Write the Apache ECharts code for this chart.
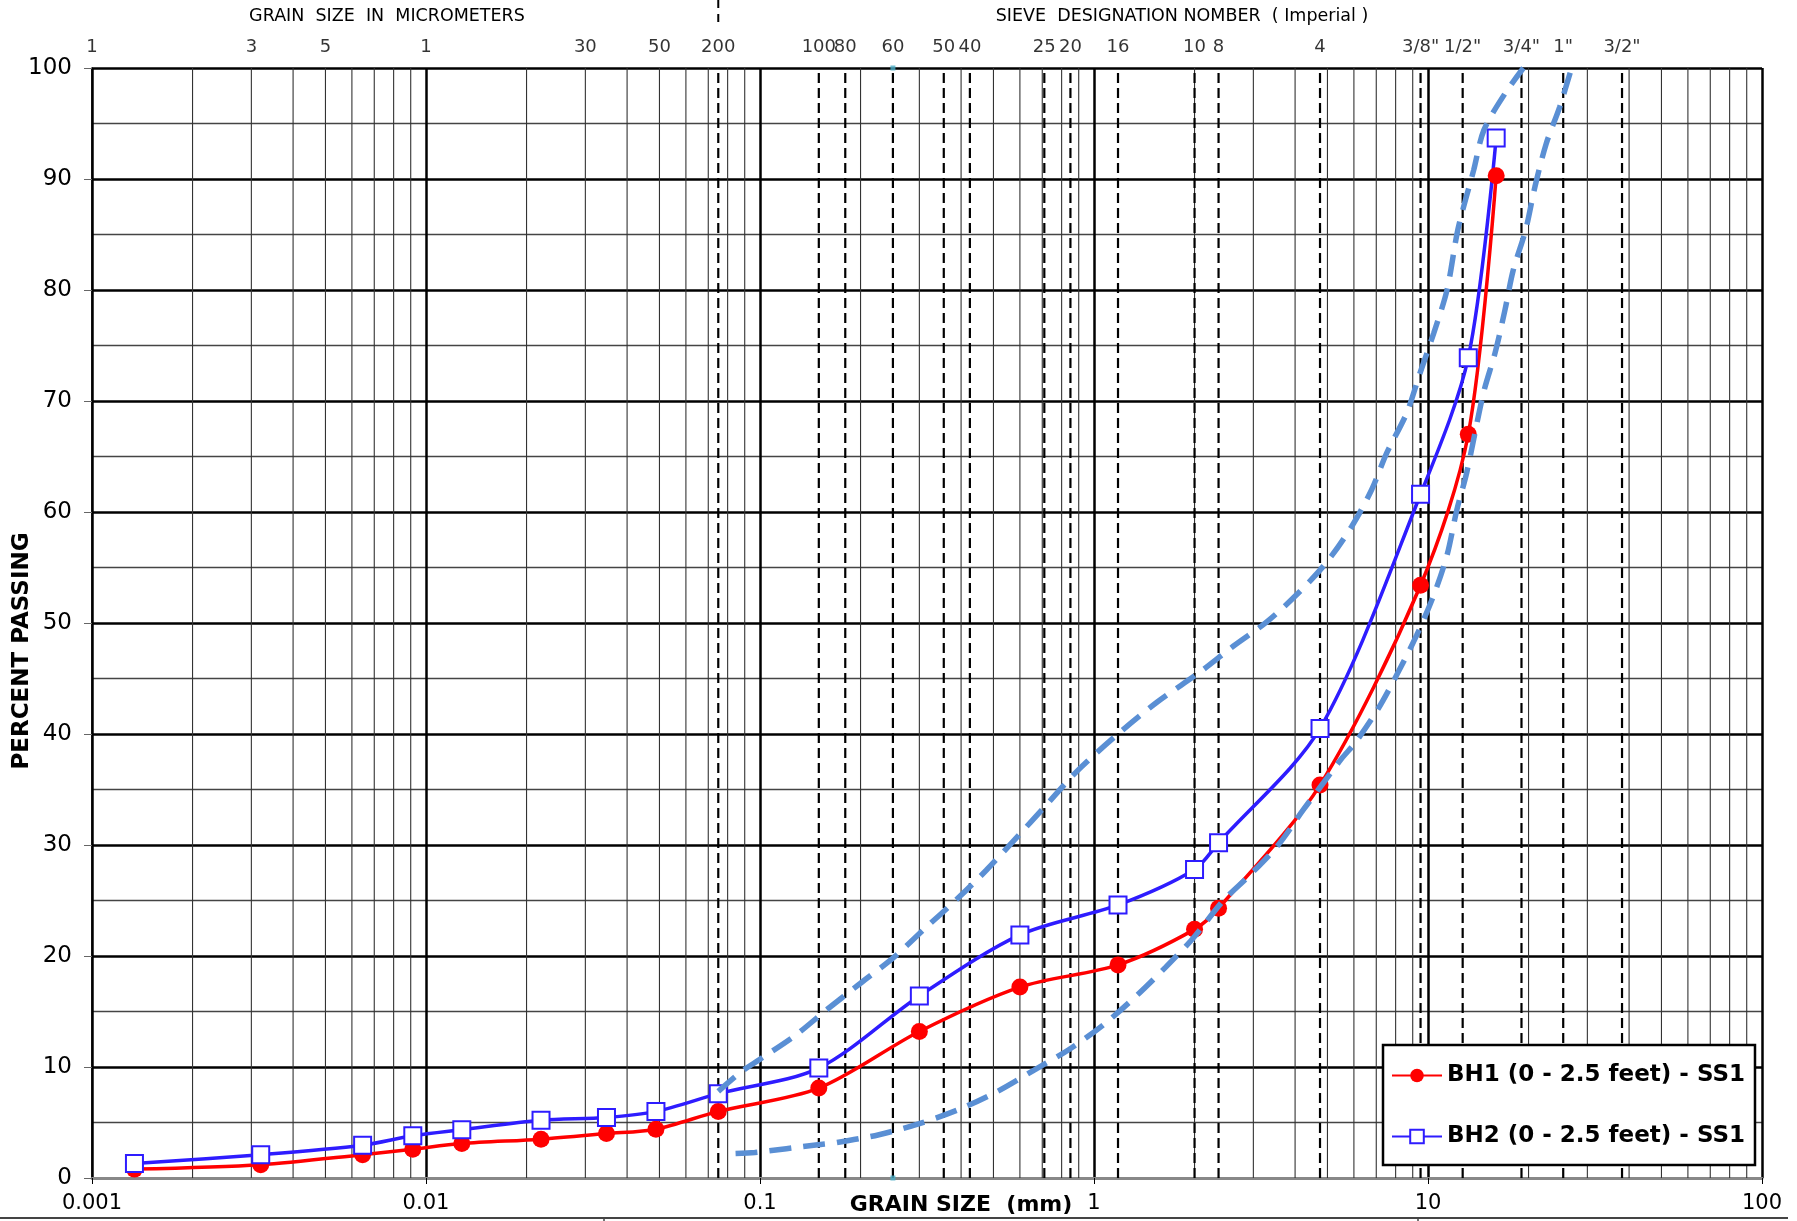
<!DOCTYPE html>
<html><head><meta charset="utf-8">
<script src="https://cdn.jsdelivr.net/npm/echarts@6/dist/echarts.min.js"></script>
<style>html,body{margin:0;padding:0;background:#fff}#c{width:1797px;height:1221px}</style>
</head><body><div id="c"></div>
<script>
// ---------------- DATA ----------------
const grainSizes = [0.00134, 0.0032, 0.00646, 0.00913, 0.0128, 0.0221, 0.0347, 0.0488, 0.075, 0.15, 0.3, 0.6, 1.18, 2.0, 2.36, 4.75, 9.5, 13.2, 16];
const bh1Passing = [0.8, 1.2, 2.1, 2.6, 3.1, 3.5, 4.0, 4.4, 6.0, 8.1, 13.2, 17.2, 19.2, 22.4, 24.3, 35.4, 53.4, 67.0, 90.3];
const bh2Passing = [1.3, 2.1, 2.95, 3.8, 4.35, 5.2, 5.45, 6.0, 7.6, 9.9, 16.4, 21.9, 24.6, 27.8, 30.2, 40.5, 61.6, 73.9, 93.7];

const upperEnvSize = [0.075, 0.0877, 0.1, 0.127, 0.159, 0.199, 0.252, 0.312, 0.385, 0.475, 0.6, 0.705, 0.893, 1.18, 1.55, 2.08, 2.61, 3.29, 4.09, 4.98, 5.91, 6.78, 7.52, 8.63, 9.46, 10.4, 11.4, 12.3, 13.7, 14.7, 17.0, 19.3];
const upperEnvPct  = [7.8, 9.55, 10.7, 12.8, 15.2, 17.5, 19.9, 22.5, 25.0, 27.7, 31.0, 33.3, 36.7, 40.0, 42.9, 45.6, 47.9, 50.1, 52.7, 55.5, 58.7, 62.0, 65.3, 68.9, 72.5, 76.1, 80.0, 85.5, 90.8, 94.4, 97.7, 100];

const lowerEnvSize = [0.0845, 0.0965, 0.149, 0.17, 0.227, 0.3, 0.396, 0.514, 0.66, 0.849, 1.077, 1.349, 1.64, 1.98, 2.44, 2.93, 3.56, 4.24, 4.70, 5.52, 6.05, 7.10, 8.15, 9.25, 10.4, 11.4, 12.2, 13.05, 14.65, 15.9, 17.0, 18.0, 19.6, 20.9, 22.6, 24.8, 26.9];
const lowerEnvPct  = [2.2, 2.3, 3.0, 3.2, 3.9, 4.9, 6.2, 7.8, 9.7, 11.65, 13.9, 16.5, 19.0, 21.6, 25.0, 27.3, 30.0, 33.2, 35.0, 37.8, 39.2, 42.3, 45.6, 48.9, 52.5, 56.1, 60.2, 63.5, 70.7, 74.4, 78.2, 81.8, 85.4, 89.3, 93.2, 96.5, 100];

const sieveSizes  = [0.075, 0.15, 0.18, 0.25, 0.355, 0.425, 0.71, 0.85, 1.18, 2.0, 2.36, 4.75, 9.5, 12.7, 19.05, 25.4, 38.1];
const sieveLabels = ['200', '100', '80', '60', '50', '40', '25', '20', '16', '10', '8', '4', '3/8"', '1/2"', '3/4"', '1"', '3/2"'];
const micronSizes  = [0.001, 0.003, 0.005, 0.01, 0.03, 0.05];
const micronLabels = ['1', '3', '5', '1', '30', '50'];
const markerPoints = [[0.25, 0], [0.25, 100]];
const decades = [0.001, 0.01, 0.1, 1, 10];
const minorMultipliers = [2, 3, 4, 5, 6, 7, 8, 9];

// --------------- BUILD ----------------
const FONT = "'DejaVu Sans', 'Liberation Sans', Arial, sans-serif";
const pair = (xs, ys) => xs.map((x, i) => [x, ys[i]]);
const minorGrid = [];
decades.forEach(d => minorMultipliers.forEach(m => minorGrid.push([+(d * m).toPrecision(3), 50])));

function vline(style) {
  return function (params, api) {
    const x = api.value(0);
    const a = api.coord([x, 0]);
    const b = api.coord([x, 100]);
    return { type: 'line', shape: { x1: a[0], y1: a[1], x2: b[0], y2: b[1] }, style: style };
  };
}

const BLUE = '#2E1CFF', RED = '#FF0000', ENV = '#5A8FD4';

const chart = echarts.init(document.getElementById('c'), null, { renderer: 'canvas' });
chart.setOption({
  animation: false,
  backgroundColor: '#fff',
  textStyle: { fontFamily: FONT },
  grid: { left: 92, top: 68, right: 35, bottom: 43, containLabel: false, outerBoundsMode: 'none' },
  xAxis: {
    type: 'log', logBase: 10, min: 0.001, max: 100,
    axisLine: { show: true, onZero: false, lineStyle: { color: '#888', width: 3 } },
    axisTick: { show: true, length: 6, lineStyle: { color: '#000', width: 1 } },
    axisLabel: { fontSize: 21, color: '#000', margin: 15, fontFamily: FONT,
      formatter: v => String(Number(v.toPrecision(1))) },
    splitLine: { show: true, lineStyle: { color: '#000', width: 2.5 } },
    minorTick: { show: false }, minorSplitLine: { show: false }
  },
  yAxis: {
    type: 'value', min: 0, max: 100, interval: 10,
    axisLine: { show: true, lineStyle: { color: '#000', width: 1.5 } },
    axisTick: { show: true, length: 8, lineStyle: { color: '#666', width: 1 } },
    axisLabel: { fontSize: 23, color: '#000', margin: 20, fontFamily: FONT },
    splitLine: { show: true, lineStyle: { color: '#000', width: 2.5 } },
    minorTick: { show: false, splitNumber: 2 },
    minorSplitLine: { show: true, lineStyle: { color: '#444', width: 1.3 } }
  },
  legend: {
    orient: 'vertical', left: 1383, top: 1045,
    data: ['BH1 (0 - 2.5 feet) - SS1', 'BH2 (0 - 2.5 feet) - SS1'],
    itemWidth: 50, itemHeight: 17, itemGap: 38,
    padding: [19, 10, 17, 8],
    backgroundColor: '#fff', borderColor: '#000', borderWidth: 2.5,
    textStyle: { fontSize: 23, fontWeight: 'bold', color: '#000', fontFamily: FONT },
    selectedMode: false
  },
  series: [
    { type: 'custom', name: 'minor', silent: true, z: 1, renderItem: vline({ stroke: '#333', lineWidth: 1.1 }),
      data: minorGrid, encode: { x: 0, y: 1 } },
    { type: 'custom', name: 'sieves', silent: true, z: 1,
      renderItem: vline({ stroke: '#000', lineWidth: 2.2, lineDash: [10, 5] }),
      data: sieveSizes.map(s => [s, 50]), encode: { x: 0, y: 1 } },
    { type: 'scatter', name: 'topSieve', silent: true, z: 6, symbolSize: 0,
      data: sieveSizes.map((s, i) => [s, 100, sieveLabels[i]]),
      label: { show: true, position: 'top', distance: 12, formatter: p => p.data[2], fontSize: 18, color: '#000', fontFamily: FONT } },
    { type: 'scatter', name: 'topMicron', silent: true, z: 6, symbolSize: 0,
      data: micronSizes.map((s, i) => [s, 100, micronLabels[i]]),
      label: { show: true, position: 'top', distance: 12, formatter: p => p.data[2], fontSize: 18, color: '#000', fontFamily: FONT } },
    { type: 'line', name: 'BH1 (0 - 2.5 feet) - SS1', z: 3, data: pair(grainSizes, bh1Passing),
      smooth: 0.3, symbol: 'circle', symbolSize: 17, showSymbol: true,
      lineStyle: { color: RED, width: 3.5 }, itemStyle: { color: RED } },
    { type: 'line', name: 'BH2 (0 - 2.5 feet) - SS1', z: 3, data: pair(grainSizes, bh2Passing),
      smooth: 0.3, symbol: 'rect', symbolSize: 17, showSymbol: true,
      lineStyle: { color: BLUE, width: 3.5 }, itemStyle: { color: '#fff', borderColor: BLUE, borderWidth: 2 } },
    { type: 'line', name: 'upperEnv', z: 4, data: pair(upperEnvSize, upperEnvPct), smooth: 0.3,
      symbol: 'none', silent: true, lineStyle: { color: ENV, width: 5.5, type: [22, 12] } },
    { type: 'line', name: 'lowerEnv', z: 4, data: pair(lowerEnvSize, lowerEnvPct), smooth: 0.3,
      symbol: 'none', silent: true, lineStyle: { color: ENV, width: 5.5, type: [22, 12] } },
    { type: 'scatter', name: 'marks', z: 4, silent: true, symbol: 'rect', symbolSize: 5,
      data: markerPoints, itemStyle: { color: '#4BACC6' } }
  ]
});

const px200 = chart.convertToPixel({ xAxisIndex: 0 }, sieveSizes[0]);
chart.setOption({
  graphic: [
    { type: 'text', x: 387, y: 16, style: { text: 'GRAIN  SIZE  IN  MICROMETERS', font: '17.5px ' + FONT, fill: '#000', align: 'center', verticalAlign: 'middle' } },
    { type: 'text', x: 1182, y: 16, style: { text: 'SIEVE  DESIGNATION NOMBER  ( Imperial )', font: '17.5px ' + FONT, fill: '#000', align: 'center', verticalAlign: 'middle' } },
    { type: 'text', x: 961, y: 1205, style: { text: 'GRAIN SIZE  (mm)', font: 'bold 22px ' + FONT, fill: '#000', align: 'center', verticalAlign: 'middle' } },
    { type: 'text', x: 22, y: 651, rotation: Math.PI / 2, style: { text: 'PERCENT PASSING', font: 'bold 23px ' + FONT, fill: '#000', align: 'center', verticalAlign: 'middle' } },
    { type: 'line', shape: { x1: px200, y1: 0, x2: px200, y2: 22 }, style: { stroke: '#000', lineWidth: 2, lineDash: [8, 6] } },
    { type: 'line', shape: { x1: 0, y1: 1218, x2: 1788, y2: 1218 }, style: { stroke: '#444', lineWidth: 2 } },
    { type: 'line', shape: { x1: 604, y1: 1218, x2: 604, y2: 1221 }, style: { stroke: '#444', lineWidth: 1.5 } },
    { type: 'line', shape: { x1: 1418, y1: 1218, x2: 1418, y2: 1221 }, style: { stroke: '#444', lineWidth: 1.5 } }
  ]
});
</script></body></html>
